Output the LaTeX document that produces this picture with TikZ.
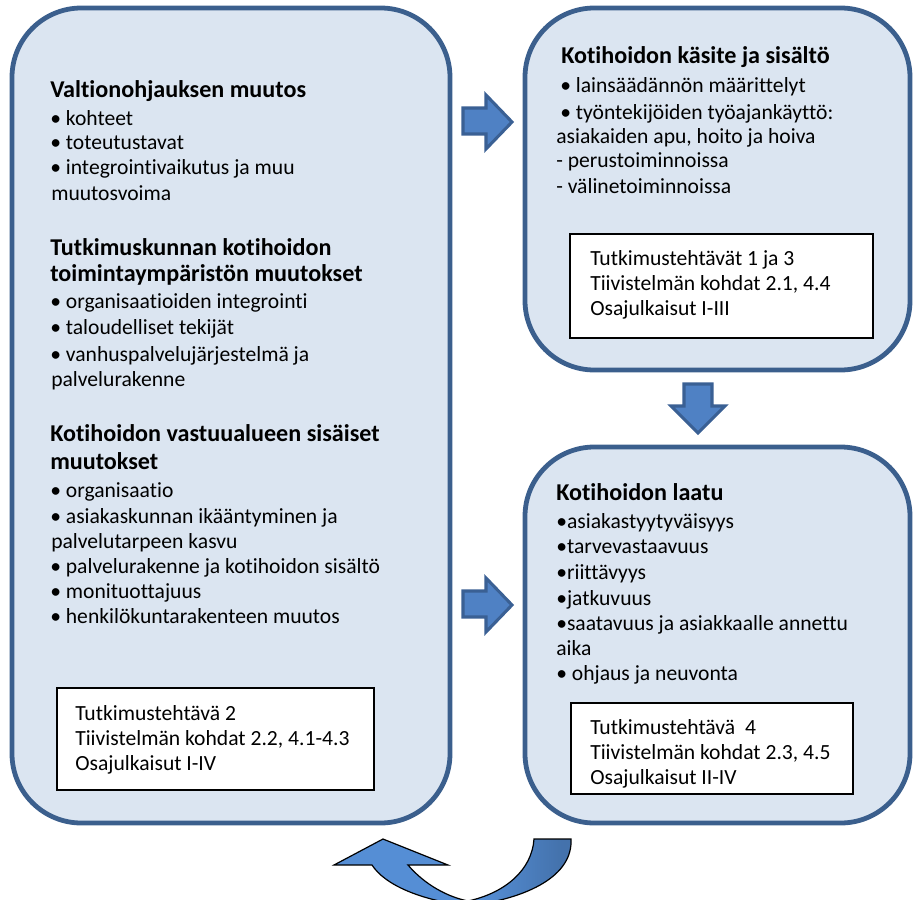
\documentclass[tikz,border=0pt]{standalone}
\usepackage{fontspec}
\setmainfont{Carlito}[Ligatures=NoCommon]
\definecolor{boxfill}{HTML}{DBE5F1}
\definecolor{boxline}{HTML}{3B5F8D}
\definecolor{arrowfill}{HTML}{4F81C4}
\definecolor{arrowline}{HTML}{3A6094}
\definecolor{curvlight}{HTML}{558ED5}
\definecolor{curvdark}{HTML}{3D679C}
\pgfdeclarehorizontalshading{curvshade}{100bp}{color(0bp)=(curvlight); color(56bp)=(curvlight); color(72bp)=(curvdark!70!curvlight); color(100bp)=(curvdark)}
\begin{document}
\begin{tikzpicture}[x=0.75pt,y=-0.75pt,
  bigbox/.style={draw=boxline, fill=boxfill, line width=3.6pt, rounded corners=52pt},
  infobox/.style={draw=black, fill=white, line width=1.1pt},
  blockarrow/.style={fill=arrowfill, draw=arrowline, line width=2.3pt, line join=miter},
  body/.style={anchor=base west, inner sep=0pt, font=\fontsize{16.2}{18}\selectfont},
  headtxt/.style={anchor=base west, inner sep=0pt, font=\fontsize{18.1}{20}\selectfont\bfseries}]
\useasboundingbox (0,0) rectangle (913,899);

% big boxes
\draw[bigbox] (12,8) rectangle (450,823);
\draw[bigbox] (525,8) rectangle (910,370);
\draw[bigbox] (525,447) rectangle (910,823);

% inner boxes
\draw[infobox] (57,688) rectangle (374,790);
\draw[infobox] (570,234) rectangle (873,338);
\draw[infobox] (571,703) rectangle (853,794);

% block arrows
\draw[blockarrow] (463,108) -- (486,108) -- (486,95) -- (512,122) -- (486,149) -- (486,134) -- (463,134) -- cycle;
\draw[blockarrow] (463,591) -- (486,591) -- (486,578) -- (512,605) -- (486,632) -- (486,617) -- (463,617) -- cycle;
\draw[blockarrow] (684,384) -- (712,384) -- (712,406) -- (725,406) -- (698,433) -- (671,406) -- (684,406) -- cycle;

% curved arrow
\draw[black, line width=0.9pt, shading=curvshade, line join=miter]
  (571,839) .. controls (573,875) and (530,898) .. (468,906)
  .. controls (420,900) and (385,885) .. (372,865)
  -- (334,865) -- (383,839) -- (448,865) -- (408,865)
  .. controls (425,885) and (448,897) .. (468,901)
  .. controls (505,893) and (532,870) .. (534,839) -- cycle;

% left box text
\node[headtxt] (l1) at (50,98) {Valtionohjauksen muutos};
\node[body] (l2) at (50,125) {• kohteet};
\node[body] (l3) at (50,149) {• toteutustavat};
\node[body] (l4) at (50,174) {• integrointivaikutus ja muu};
\node[body] (l5) at (51,200) {muutosvoima};
\node[headtxt] (l6) at (50,255) {Tutkimuskunnan kotihoidon};
\node[headtxt] (l7) at (50,281) {toimintaympäristön muutokset};
\node[body] (l8) at (50,308) {• organisaatioiden integrointi};
\node[body] (l9) at (50,334) {• taloudelliset tekijät};
\node[body] (l10) at (50,361) {• vanhuspalvelujärjestelmä ja};
\node[body] (l11) at (51,386) {palvelurakenne};
\node[headtxt] (l12) at (50,441) {Kotihoidon vastuualueen sisäiset};
\node[headtxt] (l13) at (50,469) {muutokset};
\node[body] (l14) at (50,497) {• organisaatio};
\node[body] (l15) at (50,523) {• asiakaskunnan ikääntyminen ja};
\node[body] (l16) at (51,548) {palvelutarpeen kasvu};
\node[body] (l17) at (50,573) {• palvelurakenne ja kotihoidon sisältö};
\node[body] (l18) at (50,598) {• monituottajuus};
\node[body] (l19) at (50,623) {• henkilökuntarakenteen muutos};
\node[body] (li1) at (75,720) {Tutkimustehtävä 2};
\node[body] (li2) at (75,745) {Tiivistelmän kohdat 2.2, 4.1-4.3};
\node[body] (li3) at (75,770) {Osajulkaisut I-IV};

% right top text
\node[headtxt] (r1) at (561,64) {Kotihoidon käsite ja sisältö};
\node[body] (r2) at (560,93) {• lainsäädännön määrittelyt};
\node[body] (r3) at (560,119) {• työntekijöiden työajankäyttö:};
\node[body] (r4) at (556,143) {asiakaiden apu, hoito ja hoiva};
\node[body] (r5) at (556,167) {- perustoiminnoissa};
\node[body] (r6) at (556,193) {- välinetoiminnoissa};
\node[body] (ri1) at (590,265) {Tutkimustehtävät 1 ja 3};
\node[body] (ri2) at (590,290) {Tiivistelmän kohdat 2.1, 4.4};
\node[body] (ri3) at (590,315) {Osajulkaisut I-III};

% right bottom text
\node[headtxt] (b1) at (556,500) {Kotihoidon laatu};
\node[body] (b2) at (556,528) {•asiakastyytyväisyys};
\node[body] (b3) at (556,553) {•tarvevastaavuus};
\node[body] (b4) at (556,579) {•riittävyys};
\node[body] (b5) at (556,605) {•jatkuvuus};
\node[body] (b6) at (556,630) {•saatavuus ja asiakkaalle annettu};
\node[body] (b7) at (556,655) {aika};
\node[body] (b8) at (556,680) {• ohjaus ja neuvonta};
\node[body] (bi1) at (590,734) {Tutkimustehtävä\ \ 4};
\node[body] (bi2) at (590,759) {Tiivistelmän kohdat 2.3, 4.5};
\node[body] (bi3) at (590,784) {Osajulkaisut II-IV};
\end{tikzpicture}
\end{document}
